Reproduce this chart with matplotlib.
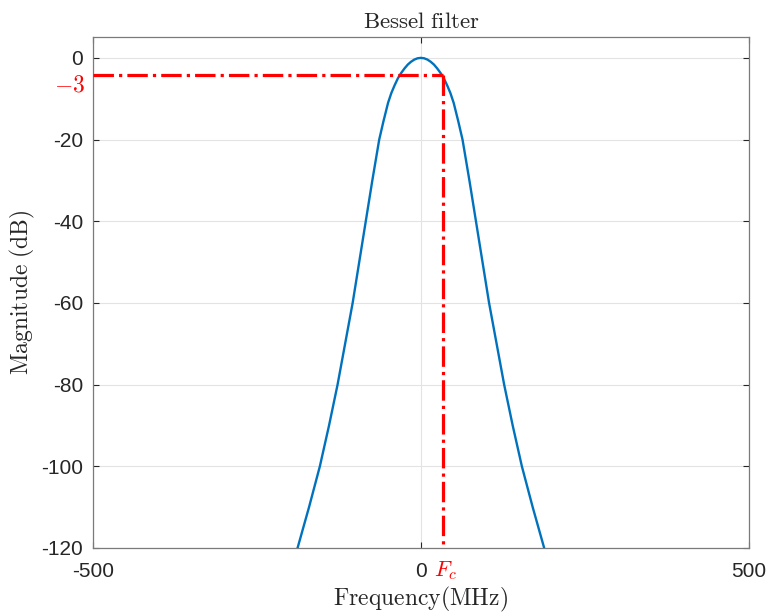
import numpy as np
import matplotlib
matplotlib.use("Agg")
import matplotlib.pyplot as plt

# Values
freq_mhz = [-188, -170.5, -154, -140, -127, -115.5, -104, -94, -84, -74, -63.5,
            -57, -50, -45, -40, -35, -30, -25, -20, -15, -10, -5, 0,
            5, 10, 15, 20, 25, 30, 35, 40, 45, 50, 57, 63.5,
            74, 84, 94, 104, 115.5, 127, 140, 154, 170.5, 188]
mag_db = [-120, -110, -100, -90, -80, -70, -60, -50, -40, -30, -20,
          -15.5, -11, -8.6, -6.7, -5.0, -3.7, -2.6, -1.65, -0.95, -0.42, -0.1, 0,
          -0.1, -0.42, -0.95, -1.65, -2.6, -3.7, -5.0, -6.7, -8.6, -11, -15.5, -20,
          -30, -40, -50, -60, -70, -80, -90, -100, -110, -120]
fc_mhz = 33
cut_db = -4.2
xticks = [-500, 0, 500]
yticks = [0, -20, -40, -60, -80, -100, -120]

plt.rcParams['mathtext.fontset'] = 'cm'
plt.rcParams['axes.unicode_minus'] = False
plt.rcParams['font.family'] = ['Liberation Sans', 'DejaVu Sans']

fig = plt.figure(figsize=(7.68, 6.14), dpi=100)
ax = fig.add_axes([0.121, 0.1075, 0.854, 0.8315])

ax.plot(freq_mhz, mag_db, '-', color='#0072BD', lw=1.7, zorder=3)
ax.plot([-500, fc_mhz], [cut_db, cut_db], '-.', color='red', lw=2.3, zorder=4)
ax.plot([fc_mhz, fc_mhz], [cut_db, -120], '-.', color='red', lw=2.3, zorder=4)

ax.set_xlim(-500, 500)
ax.set_ylim(-120, 5)
ax.set_xticks(xticks)
ax.set_yticks(yticks)
ax.set_xticklabels([str(t) for t in xticks])
ax.set_yticklabels([str(t) for t in yticks])
ax.tick_params(direction='in', length=4, width=0.8, colors='#262626',
               labelsize=15, top=True, right=True)
ax.tick_params(axis='x', pad=10)
ax.tick_params(axis='y', pad=7)
for s in ax.spines.values():
    s.set_color('#7a7a7a')
    s.set_linewidth(0.9)
ax.grid(True, color='#e3e3e3', lw=0.8)
ax.set_axisbelow(True)

ax.set_title(r'$\mathrm{Bessel\ filter}$', fontsize=16.5, color='#262626', pad=7)
ax.set_xlabel(r'$\mathrm{Frequency(MHz)}$', fontsize=17, color='#262626', labelpad=3)
ax.set_ylabel(r'$\mathrm{Magnitude\ (dB)}$', fontsize=17, color='#262626', labelpad=3)

ax.text(-0.035, cut_db - 2.6, r'$-3$', transform=ax.get_yaxis_transform(),
        ha='center', va='center', color='red', fontsize=17)
ax.text(fc_mhz + 4, -0.044, r'$F_c$', transform=ax.get_xaxis_transform(),
        ha='center', va='center', color='red', fontsize=16)

plt.savefig('out.png', dpi=100)
